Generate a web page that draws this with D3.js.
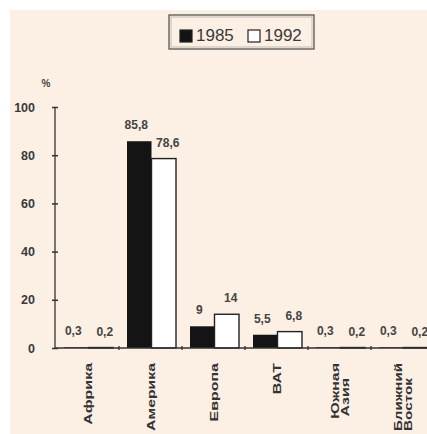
<!DOCTYPE html>
<html><head><meta charset="utf-8">
<script src="https://cdn.jsdelivr.net/npm/d3@7/dist/d3.min.js"></script>
<style>body{margin:0;background:#fff}svg{display:block}</style>
</head><body>
<svg id="c" width="427" height="434"></svg>
<script>
const categories = [["Африка"],["Америка"],["Европа"],["ВАТ"],["Южная","Азия"],["Ближний","Восток"]];
const series = ["1985","1992"];
const values1985 = [0.3, 85.8, 9, 5.5, 0.3, 0.3];
const values1992 = [0.2, 78.6, 14, 6.8, 0.2, 0.2];
const labels1985 = ["0,3","85,8","9","5,5","0,3","0,3"];
const labels1992 = ["0,2","78,6","14","6,8","0,2","0,2"];
const yTicks = [0,20,40,60,80,100];

const svg = d3.select("#c");
const ink = "#444";
const ff = "Liberation Sans, Arial, sans-serif";
svg.append("rect").attr("x",10).attr("y",10).attr("width",417).attr("height",424).attr("fill","#fcefe3");

const keys = categories.map((c,i)=>i);
const x = d3.scaleBand().domain(keys).range([56, 56+63*6]).paddingInner(0).paddingOuter(0);
const x1 = d3.scaleBand().domain(series).range([8, 57]).padding(0);
const y = d3.scaleLinear().domain([0,100]).range([348,107]);

// bars
const data = keys.map(i=>({i, v:[values1985[i], values1992[i]], l:[labels1985[i], labels1992[i]]}));
const g = svg.append("g");
data.forEach(d=>{
  series.forEach((s,k)=>{
    const bx = x(d.i)+x1(s);
    g.append("rect").attr("x",bx).attr("y",y(d.v[k])).attr("width",x1.bandwidth())
      .attr("height",y(0)-y(d.v[k]))
      .attr("fill", k===0 ? "#141414" : "#ffffff")
      .attr("stroke", k===0 ? "none" : "#222").attr("stroke-width",1.4);
    g.append("text").attr("x",bx+x1.bandwidth()/2 + (k===0?-3:4)).attr("y",y(d.v[k]) - 12)
      .attr("text-anchor","middle").attr("font-family",ff)
      .attr("font-size",12).attr("font-weight","bold").attr("fill",ink)
      .text(d.l[k]);
  });
});

// y axis
const ya = svg.append("g").attr("transform","translate(55,0)")
  .call(d3.axisLeft(y).tickValues(yTicks).tickSize(3).tickPadding(17).tickFormat(d3.format("d")));
ya.select(".domain").attr("stroke","#333").attr("stroke-width",1.3).attr("d","M0,"+y(0)+"V"+y(100));
ya.selectAll(".tick line").attr("x1",-3).attr("x2",3).attr("stroke","#333").attr("stroke-width",1.5);
ya.selectAll(".tick text").attr("font-family",ff).attr("font-size",12.5)
  .attr("font-weight","bold").attr("fill","#3a3a3a");
svg.append("text").attr("x",46).attr("y",87).attr("text-anchor","middle")
  .attr("font-family",ff).attr("font-size",10).attr("font-weight","bold").attr("fill","#444").text("%");

// x axis
const xa = svg.append("g").attr("transform","translate(0,"+y(0)+")");
xa.append("line").attr("x1",55).attr("x2",427).attr("stroke","#333").attr("stroke-width",1.5);
keys.slice(1).forEach(i=>{
  xa.append("line").attr("x1",x(i)).attr("x2",x(i)).attr("y1",-2).attr("y2",2).attr("stroke","#333").attr("stroke-width",1.3);
});

// category labels (stretched condensed look, kept inside the picture)
categories.forEach((lines,i)=>{
  const cx = x(i)+x.bandwidth()/2 - 1;
  const n = lines.length;
  lines.forEach((t,j)=>{
    const lx = cx + (j - (n-1)/2)*10.5 + 5.5;
    const top = j===0 ? 363 : 378;
    const txt = svg.append("text")
      .attr("text-anchor","end")
      .attr("font-family",ff).attr("font-size",11).attr("font-weight","bold")
      .attr("fill","#333").text(t);
    const len = txt.node().getComputedTextLength();
    const sc = Math.min(1.45, (431 - top)/len);
    txt.attr("transform","translate("+lx+","+top+") rotate(-90) scale("+sc+",1)");
  });
});

// legend
const lg = svg.append("g");
lg.append("rect").attr("x",169).attr("y",15).attr("width",145).attr("height",34).attr("fill","none").attr("stroke","#555").attr("stroke-width",1.3);
lg.append("rect").attr("x",171).attr("y",17).attr("width",141).attr("height",30).attr("fill","none").attr("stroke","#999").attr("stroke-width",0.6);
series.forEach((s,k)=>{
  const lx = k===0 ? 180 : 248;
  lg.append("rect").attr("x",lx).attr("y",30).attr("width",12).attr("height",12)
    .attr("fill", k===0 ? "#141414":"#fff").attr("stroke","#222").attr("stroke-width",1.2);
  lg.append("text").attr("x",lx+16).attr("y",41).attr("font-family",ff)
    .attr("font-size",17).attr("fill","#3a3a3a").text(s);
});
</script>
</body></html>
